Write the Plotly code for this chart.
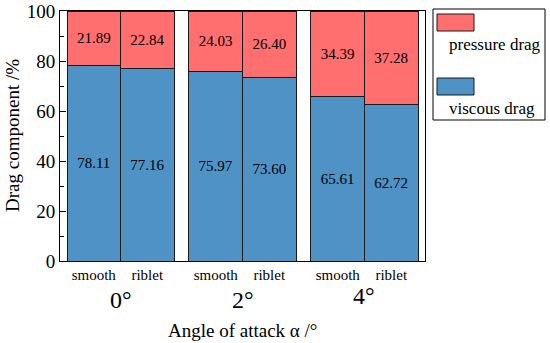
import plotly.graph_objects as go

angles = ["0°", "2°", "4°"]
surfaces = ["smooth", "riblet"]
viscous = [78.11, 77.16, 75.97, 73.60, 65.61, 62.72]
pressure = [21.89, 22.84, 24.03, 26.40, 34.39, 37.28]

RED = "#FF6F6F"
BLUE = "#4F92C6"
FONT = "Liberation Serif"

# plot area in pixels
W, H = 550, 343
L, R, T, B = 60, 425, 11, 261


def px(x):
    return (x - L) / (R - L)


def py(y):
    return (B - y) / (B - T)


step = 2.28
xs = [g * step + s for g in range(len(angles)) for s in range(len(surfaces))]
ticktext = [s for _ in angles for s in surfaces]

fig = go.Figure()
fig.add_trace(go.Bar(
    x=xs, y=viscous, width=1, name="viscous drag",
    marker=dict(color=BLUE, line=dict(color="#1a1a1a", width=1)),
    text=[f"{v:.2f}" for v in viscous], textposition="inside",
    insidetextanchor="middle", textangle=0,
    textfont=dict(family=FONT, size=15, color="black"),
    showlegend=False,
))
fig.add_trace(go.Bar(
    x=xs, y=pressure, width=1, name="pressure drag",
    marker=dict(color=RED, line=dict(color="#1a1a1a", width=1)),
    text=[f"{v:.2f}" for v in pressure], textposition="inside",
    insidetextanchor="middle", textangle=0,
    textfont=dict(family=FONT, size=15, color="black"),
    showlegend=False,
))

fig.update_layout(
    barmode="stack",
    width=W, height=H,
    margin=dict(l=L, r=W - R, t=T, b=H - B, autoexpand=False),
    paper_bgcolor="white", plot_bgcolor="white",
    font=dict(family=FONT, color="black"),
)
fig.update_xaxes(
    range=[-0.5 - 7 / 53.5, xs[-1] + 0.5 + 7 / 53.5],
    tickvals=xs, ticktext=ticktext, ticks="",
    tickfont=dict(family=FONT, size=15, color="black"),
    showline=True, linecolor="black", linewidth=1, mirror=True,
    showgrid=False, zeroline=False, automargin=False,
)
fig.update_yaxes(
    range=[0, 100], tickvals=[0, 20, 40, 60, 80, 100],
    ticks="inside", ticklen=6, tickcolor="black",
    minor=dict(tickvals=[10, 30, 50, 70, 90], ticks="inside", ticklen=4, tickcolor="black"),
    tickfont=dict(family=FONT, size=19, color="black"),
    showline=True, linecolor="black", linewidth=1, mirror=True,
    showgrid=False, zeroline=False, automargin=False,
)

# group labels
group_y = [300, 300, 296]
for g, a in enumerate(angles):
    fig.add_annotation(
        x=g * step + 0.5, xref="x", y=py(group_y[g]), yref="paper",
        text=a, showarrow=False, xanchor="center", yanchor="middle",
        font=dict(family=FONT, size=24, color="black"),
    )

# axis titles
fig.add_annotation(
    x=px(242), xref="paper", y=py(330), yref="paper",
    text="Angle of attack α /°", showarrow=False, xanchor="center", yanchor="middle",
    font=dict(family=FONT, size=19, color="black"),
)
fig.add_annotation(
    x=px(12), xref="paper", y=py(136), yref="paper",
    text="Drag component /%", showarrow=False, textangle=-90,
    xanchor="center", yanchor="middle",
    font=dict(family=FONT, size=19, color="black"),
)

# custom legend
fig.add_shape(type="rect", xref="paper", yref="paper",
              x0=px(433), x1=px(545), y0=py(120), y1=py(9),
              line=dict(color="black", width=1), fillcolor="white")
legend_items = [("pressure drag", RED, 14, 31, 44), ("viscous drag", BLUE, 78, 95, 108)]
for label, col, y0, y1, ty in legend_items:
    fig.add_shape(type="rect", xref="paper", yref="paper",
                  x0=px(437), x1=px(474), y0=py(y1), y1=py(y0),
                  line=dict(color="#1a1a1a", width=1), fillcolor=col)
    fig.add_annotation(
        x=px(447), xref="paper", y=py(ty), yref="paper",
        text=label, showarrow=False, xanchor="left", yanchor="middle",
        font=dict(family=FONT, size=17, color="black"),
    )

fig.write_html("out.html", config={"displayModeBar": False},
               post_script="document.body.style.margin='0';")
